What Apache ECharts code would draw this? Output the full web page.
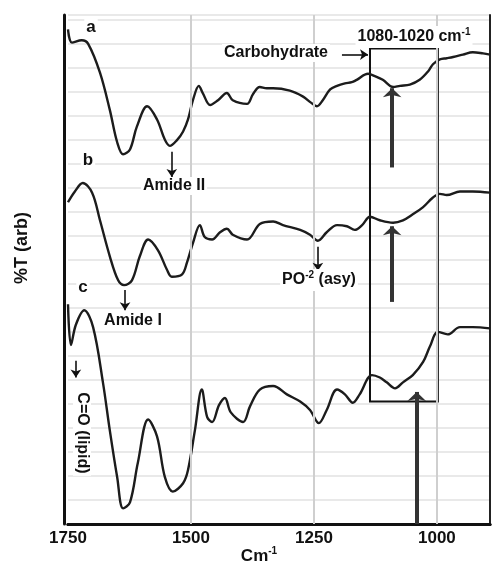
<!DOCTYPE html>
<html>
<head>
<meta charset="utf-8">
<script src="https://cdn.jsdelivr.net/npm/echarts@6/dist/echarts.min.js"></script>
<style>
html, body { margin: 0; padding: 0; background: #fff; }
#chart { width: 492px; height: 565px; }
</style>
</head>
<body>
<div id="chart"></div>
<script>
// spectrum a (top)
var waveA = [1750, 1742, 1722, 1709, 1685, 1665, 1650, 1638, 1624, 1610, 1589, 1569, 1553, 1543, 1528,
    1516, 1506, 1496, 1484, 1476, 1461, 1445, 1427, 1415, 1386, 1374, 1360, 1346, 1333, 1299,
    1272, 1256, 1244, 1232, 1217, 1203, 1187, 1173, 1163, 1140, 1126, 1110, 1089, 1075, 1055,
    1035, 1018, 1008, 994, 980, 967, 947, 927, 906, 892];
var transA = [20.6, 20.05, 20.15, 20.0, 18.8, 17.25, 15.9, 15.4, 15.6, 16.55, 17.4, 16.85, 16.0, 15.75, 16.0,
    16.35, 16.85, 17.65, 18.25, 17.95, 17.45, 17.65, 17.95, 17.65, 17.5, 17.9, 18.2, 18.15, 18.15, 18.05,
    17.8, 17.55, 17.4, 17.65, 18.1, 18.25, 18.35, 18.4, 18.5, 18.75, 18.65, 18.5, 18.2, 18.25, 18.3,
    18.5, 18.85, 19.15, 19.35, 19.4, 19.45, 19.55, 19.65, 19.6, 19.55];

// spectrum b (middle)
var waveB = [1750, 1736, 1720, 1701, 1685, 1665, 1648, 1636, 1620, 1604, 1587, 1567, 1549, 1539, 1518,
    1508, 1496, 1482, 1472, 1457, 1441, 1427, 1415, 1386, 1360, 1333, 1313, 1278, 1258, 1242,
    1224, 1203, 1183, 1167, 1152, 1136, 1116, 1089, 1069, 1049, 1028, 1008, 994, 980, 953, 927, 892];
var transB = [13.4, 13.85, 14.2, 13.8, 12.65, 11.15, 10.15, 9.95, 10.15, 11.15, 11.85, 11.4, 10.6, 10.3, 10.4,
    10.9, 11.7, 12.45, 11.95, 11.85, 12.15, 12.3, 12.05, 11.85, 12.5, 12.6, 12.45, 12.25, 12.05, 11.8,
    12.15, 12.45, 12.4, 12.25, 12.45, 12.8, 12.65, 12.55, 12.65, 12.9, 13.2, 13.6, 13.75, 13.7, 13.85, 13.85, 13.8];

// spectrum c (bottom)
var waveC = [1750, 1744, 1734, 1717, 1699, 1679, 1665, 1650, 1638, 1624, 1608, 1587, 1569, 1553, 1537,
    1516, 1506, 1492, 1478, 1467, 1457, 1443, 1431, 1419, 1394, 1380, 1360, 1333, 1305, 1278,
    1258, 1240, 1224, 1203, 1187, 1171, 1157, 1132, 1116, 1102, 1085, 1069, 1049, 1028, 1014,
    998, 978, 953, 927, 892];
var transC = [9.15, 7.45, 8.3, 8.9, 8.2, 5.9, 3.9, 1.95, 0.65, 0.9, 2.55, 4.35, 3.65, 1.95, 1.35,
    1.7, 2.25, 3.9, 5.6, 4.45, 4.25, 4.95, 5.25, 4.65, 4.25, 4.9, 5.6, 5.75, 5.4, 5.1,
    4.75, 4.2, 4.75, 5.6, 5.4, 5.05, 5.4, 6.2, 6.1, 5.9, 5.65, 5.9, 6.2, 6.75, 7.4,
    8.0, 7.9, 8.2, 8.2, 8.15];

var xTicks = [1750, 1500, 1250, 1000];
var xGridLines = [1500, 1250, 1000];

// small arrows: [wavenumber, from, to]
var smallArrows = [
    [1539, 15.5, 14.45],   // Amide II
    [1634, 9.75, 8.9],     // Amide I
    [1734, 6.8, 6.1],      // C=O
    [1242, 11.55, 10.55]   // PO
];
// big upward arrows into the box: [wavenumber, tail, head]
var bigArrows = [
    [1091, 14.85, 18.15],
    [1091, 9.25, 12.4],
    [1041, 0.0, 5.5]
];
// carbohydrate pointer [from, to, level]
var carbArrow = [1193, 1140, 19.55];
// 1080-1020 box corners
var boxArea = [[1136, 19.8], [998, 5.1]];

function zip(xs, ys) {
    var out = [];
    for (var i = 0; i < xs.length; i++) out.push([xs[i], ys[i]]);
    return out;
}

var FONT = "'Liberation Sans', Arial, sans-serif";
var lineStyle = { color: '#1c1c1c', width: 2.4 };

var markLines = [];
smallArrows.forEach(function (a) {
    markLines.push([{ coord: [a[0], a[1]] }, { coord: [a[0], a[2]] }]);
});
markLines.push([{ coord: [carbArrow[0], carbArrow[2]] }, { coord: [carbArrow[1], carbArrow[2]] }]);

var bigLines = bigArrows.map(function (a) {
    return [{ coord: [a[0], a[1]] }, { coord: [a[0], a[2]] }];
});

var myChart = echarts.init(document.getElementById('chart'));

function txt(x, y, text, size, rot, rich, noBg) {
    return {
        type: 'text', x: x, y: y, rotation: rot || 0, z: 50,
        style: {
            text: text, fill: '#111', font: 'bold ' + size + 'px ' + FONT,
            align: 'center', verticalAlign: 'middle', rich: rich,
            backgroundColor: noBg ? null : '#fff', padding: noBg ? 0 : [1, 2]
        }
    };
}
var supRich = {
    n: { fontSize: 16, fontWeight: 'bold', fontFamily: FONT, fill: '#111', lineHeight: 20 },
    s: { fontSize: 10, fontWeight: 'bold', fontFamily: FONT, fill: '#111', verticalAlign: 'top', lineHeight: 20 }
};
var supRichBig = {
    n: { fontSize: 17, fontWeight: 'bold', fontFamily: FONT, fill: '#111', lineHeight: 20 },
    s: { fontSize: 10, fontWeight: 'bold', fontFamily: FONT, fill: '#111', verticalAlign: 'top', lineHeight: 20 }
};

var options = {
    animation: false,
    backgroundColor: '#fff',
    grid: { left: 68, right: 2, top: 15, bottom: 41 },
    xAxis: [{
        type: 'value', inverse: true, min: 892, max: 1750,
        axisLine: { lineStyle: { color: '#111', width: 3 } },
        axisTick: { show: false },
        axisLabel: {
            color: '#111', fontSize: 17, fontWeight: 'bold', fontFamily: FONT, margin: 6,
            customValues: xTicks,
            formatter: function (v) { return String(v); }
        },
        splitLine: { show: false }
    }, {
        type: 'value', inverse: true, min: 892, max: 1750, position: 'top',
        axisLine: { lineStyle: { color: '#111', width: 3 } },
        axisTick: { show: false }, axisLabel: { show: false }, splitLine: { show: false }
    }],
    yAxis: [{
        type: 'value', min: 0, max: 21.2, interval: 1, offset: 4,
        axisLine: { show: true, lineStyle: { color: '#111', width: 3 } },
        axisTick: { show: false }, axisLabel: { show: false },
        splitLine: { show: true, lineStyle: { color: '#e2e2e2', width: 1.5 } }
    }, {
        type: 'value', min: 0, max: 21.2, position: 'right',
        axisLine: { show: true, lineStyle: { color: '#222', width: 2 } },
        axisTick: { show: false }, axisLabel: { show: false }, splitLine: { show: false }
    }],
    series: [{
        name: 'grid', type: 'line', data: [], z: 1, silent: true,
        markLine: {
            silent: true, symbol: ['none', 'none'], label: { show: false },
            lineStyle: { color: '#cfcfcf', width: 2, type: 'solid' },
            data: xGridLines.map(function (v) { return { xAxis: v }; })
        }
    }, {
        name: 'a', type: 'line', data: zip(waveA, transA), smooth: 0.35,
        showSymbol: false, lineStyle: lineStyle, silent: true,
        markArea: {
            silent: true,
            itemStyle: { color: 'rgba(0,0,0,0)', borderColor: '#111', borderWidth: 2 },
            data: [[{ coord: boxArea[0] }, { coord: boxArea[1] }]]
        },
        markLine: {
            silent: true, symbol: ['none', 'arrow'], symbolSize: 8,
            label: { show: false },
            lineStyle: { color: '#111', width: 1.6, type: 'solid' },
            data: markLines
        }
    }, {
        name: 'b', type: 'line', data: zip(waveB, transB), smooth: 0.35,
        showSymbol: false, lineStyle: lineStyle, silent: true,
        markLine: {
            silent: true, symbol: ['none', 'arrow'], symbolSize: [14, 9],
            label: { show: false },
            lineStyle: { color: '#333', width: 4, type: 'solid' },
            data: bigLines
        }
    }, {
        name: 'c', type: 'line', data: zip(waveC, transC), smooth: 0.35,
        showSymbol: false, lineStyle: lineStyle, silent: true
    }],
    graphic: [
        txt(91, 27, 'a', 17),
        txt(88, 160, 'b', 17),
        txt(83, 287, 'c', 17),
        txt(174, 186, 'Amide II', 16),
        txt(133, 321, 'Amide I', 16),
        txt(276, 53, 'Carbohydrate', 16),
        txt(414, 37, '{n|1080-1020 cm}{s|-1}', 16, 0, supRich),
        txt(319, 280, '{n|PO}{s|-2}{n| (asy)}', 16, 0, supRich),
        txt(82, 433, 'C=O (lipid)', 16, -Math.PI / 2),
        txt(22, 248, '%T (arb)', 18, Math.PI / 2, null, true),
        txt(259, 556, '{n|Cm}{s|-1}', 17, 0, supRichBig, true)
    ]
};

myChart.setOption(options);
</script>
</body>
</html>
